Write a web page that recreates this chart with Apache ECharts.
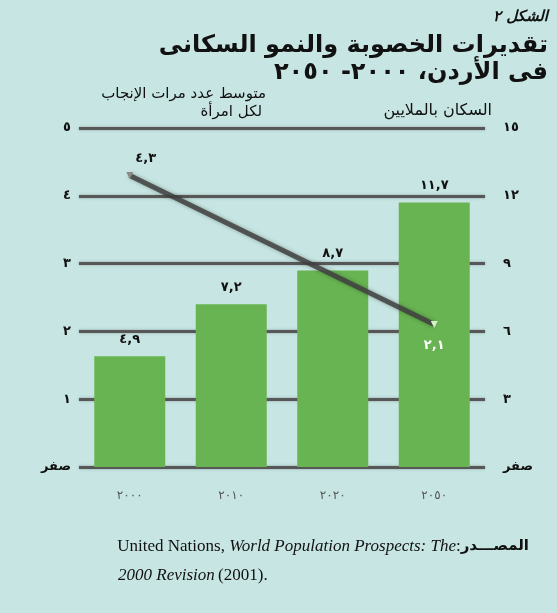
<!DOCTYPE html>
<html>
<head>
<meta charset="utf-8">
<script src="https://cdn.jsdelivr.net/npm/echarts@6/dist/echarts.min.js"></script>
<style>
  html, body { margin: 0; padding: 0; background: #c7e6e3; }
  #chart { width: 557px; height: 613px; }
</style>
</head>
<body>
<div id="chart"></div>
<script>
const years = ['٢٠٠٠', '٢٠١٠', '٢٠٢٠', '٢٠٥٠']
const population = [4.9, 7.2, 8.7, 11.7]
const fertility = [4.3, null, null, 2.1]
const fertilityTicks = ['صفر', '١', '٢', '٣', '٤', '٥']
const populationTicks = ['صفر', '٣', '٦', '٩', '١٢', '١٥']

const AR = 'DejaVu Sans'
const digits = '٠١٢٣٤٥٦٧٨٩'

// 4.9 -> ٤,٩
function toArabic(v) {
  return String(v).replace(/\d/g, (d) => digits[+d]).replace('.', ',')
}

const chart = echarts.init(document.getElementById('chart'))

chart.setOption({
  backgroundColor: '#c7e6e3',
  animation: false,
  grid: { left: 79, right: 72, top: 128, bottom: 146 },
  xAxis: {
    type: 'category',
    data: years,
    axisLine: { show: false },
    axisTick: { show: false },
    axisLabel: { margin: 23, color: '#555', fontFamily: AR, fontSize: 12 },
  },
  yAxis: [
    {
      type: 'value', min: 0, max: 5, interval: 1,
      axisLine: { show: false },
      axisTick: { show: false },
      axisLabel: {
        margin: 8, color: '#111', fontFamily: AR, fontSize: 13, fontWeight: 'bold',
        formatter: (v) => fertilityTicks[v],
      },
      splitLine: {
        lineStyle: { color: '#575757', width: 3, shadowBlur: 3, shadowColor: 'rgba(0,0,0,0.3)' },
      },
    },
    {
      type: 'value', min: 0, max: 15, interval: 3,
      axisLine: { show: false },
      axisTick: { show: false },
      splitLine: { show: false },
      axisLabel: {
        margin: 18, color: '#111', fontFamily: AR, fontSize: 13, fontWeight: 'bold',
        formatter: (v) => populationTicks[v / 3],
      },
    },
  ],
  series: [
    {
      type: 'bar',
      yAxisIndex: 1,
      data: population,
      barWidth: 71,
      itemStyle: { color: '#69b452' },
      label: {
        show: true, position: 'top', distance: 10,
        fontFamily: AR, fontSize: 13, fontWeight: 'bold', color: '#111',
        formatter: (p) => toArabic(p.value),
      },
      z: 2,
    },
    {
      type: 'line',
      yAxisIndex: 0,
      connectNulls: true,
      data: fertility.map((v, i) => v === null ? null : ({
        value: v,
        itemStyle: { color: i === 0 ? '#8a8a8a' : '#d6f0c8' },
        label: i === 0
          ? { position: 'top', offset: [16, -2], color: '#111' }
          : { position: 'bottom', offset: [0, 6], color: '#fff' },
      })),
      symbol: 'triangle',
      symbolRotate: 180,
      symbolSize: 7,
      lineStyle: { color: 'rgba(65,65,65,0.85)', width: 5, shadowBlur: 4, shadowColor: 'rgba(0,0,0,0.35)' },
      label: {
        show: true, fontFamily: AR, fontSize: 13, fontWeight: 'bold',
        formatter: (p) => toArabic(p.value),
      },
      z: 3,
    },
  ],
  graphic: [
    { type: 'text', right: 9, top: 10, style: { text: 'الشكل ٢', font: 'italic bold 15px "DejaVu Sans"', fill: '#111' } },
    { type: 'text', right: 9, top: 34, style: { text: 'تقديرات الخصوبة والنمو السكانى', font: 'bold 24px "DejaVu Sans"', fill: '#111' } },
    { type: 'text', right: 9, top: 61, style: { text: 'فى الأردن، ٢٠٠٠- ٢٠٥٠', font: 'bold 24px "DejaVu Sans"', fill: '#111' } },
    { type: 'text', right: 65, top: 103, style: { text: 'السكان بالملايين', font: '16px "DejaVu Sans"', fill: '#111' } },
    { type: 'text', right: 291, top: 87, style: { text: 'متوسط عدد مرات الإنجاب', font: '15px "DejaVu Sans"', fill: '#111' } },
    { type: 'text', right: 295, top: 105, style: { text: 'لكل امرأة', font: '15px "DejaVu Sans"', fill: '#111' } },
    {
      type: 'text', right: 28, top: 538,
      style: {
        text: '{a|United Nations, }{b|World Population Prospects: The}{a|:}{c|المصـــدر}',
        rich: {
          a: { font: '17px "Liberation Serif"', fill: '#111' },
          b: { font: 'italic 17px "Liberation Serif"', fill: '#111' },
          c: { font: 'bold 15px "DejaVu Sans"', fill: '#111' },
        },
      },
    },
    {
      type: 'text', left: 118, top: 567,
      style: {
        text: '{b|2000 Revision} {a|(2001).}',
        rich: {
          a: { font: '17px "Liberation Serif"', fill: '#111' },
          b: { font: 'italic 17px "Liberation Serif"', fill: '#111' },
        },
      },
    },
  ],
})
</script>
</body>
</html>
